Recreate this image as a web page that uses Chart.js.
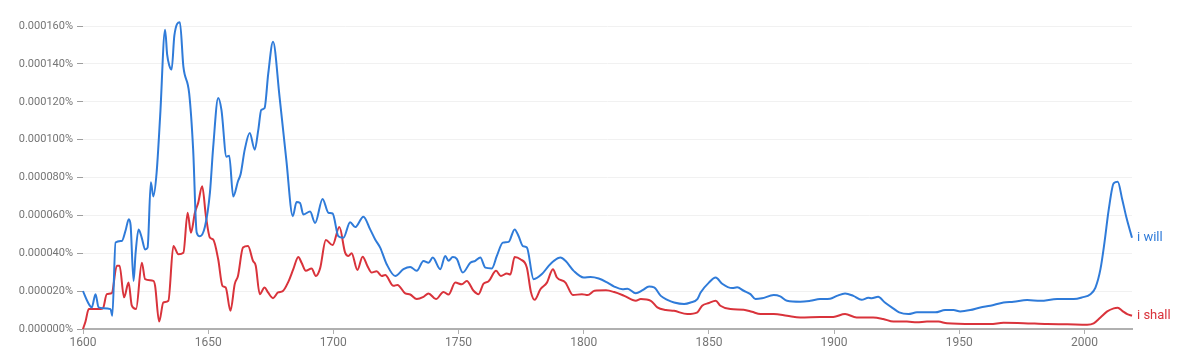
<!DOCTYPE html>
<html>
<head>
<meta charset="utf-8">
<script src="https://cdn.jsdelivr.net/npm/chart.js@4.4.0/dist/chart.umd.min.js"></script>
<style>
  html, body { margin: 0; padding: 0; background: #fff; }
  #wrap { width: 1200px; height: 355px; position: relative; }
</style>
</head>
<body>
<div id="wrap"><canvas id="myChart" width="1200" height="355"></canvas></div>
<script>
// data (values in units of 0.000001%)
const seriesNames = ['i will', 'i shall'];

const willYears = [1600, 1602, 1603.5, 1605, 1606.2, 1608, 1611, 1611.7, 1613, 1615.5, 1617, 1618.3, 1619, 1620.2, 1621, 1622.2, 1623.5, 1624.8, 1625.8, 1627.1, 1628.1, 1629.4, 1630.8, 1632.8, 1633.6, 1634.5, 1635.4, 1636.5, 1638.7, 1640.1, 1642.4, 1644, 1645.4, 1646.7, 1648.7, 1650.7, 1652, 1654, 1655.3, 1657.3, 1658.4, 1660, 1661.9, 1663, 1664.6, 1666.6, 1668.6, 1670, 1671.2, 1672.5, 1674, 1675.9, 1678.5, 1681.2, 1683.8, 1685.3, 1686.7, 1688, 1690.7, 1692.7, 1695.7, 1698, 1699.7, 1702, 1704, 1706.7, 1708.7, 1712, 1714.7, 1716.7, 1718.7, 1721.3, 1724.7, 1728, 1730.7, 1733.3, 1736, 1738, 1739.7, 1742.7, 1744.7, 1746, 1747.7, 1749.3, 1751.7, 1754.7, 1756.7, 1758.7, 1760.7, 1763.3, 1765.3, 1767.7, 1770, 1772.4, 1774, 1775.7, 1777.3, 1780, 1783.3, 1786, 1788, 1790.7, 1792.7, 1796, 1800, 1802.7, 1806, 1809.5, 1812.2, 1815.5, 1817.5, 1820.8, 1823.5, 1826.1, 1828.1, 1830.8, 1833.4, 1836.1, 1840.1, 1842.7, 1845.4, 1846.7, 1850, 1852.7, 1855.3, 1859.3, 1861.3, 1863.9, 1866.6, 1868.6, 1871.2, 1875.9, 1878.5, 1881.2, 1886.5, 1890.5, 1894.4, 1898.4, 1901.1, 1904.4, 1907.7, 1911, 1913.7, 1915, 1917.6, 1920.3, 1923.6, 1926, 1929.7, 1933.1, 1940.4, 1944.4, 1947.7, 1950.4, 1954.4, 1958.4, 1962.4, 1967.7, 1971.7, 1977.1, 1982.4, 1989.1, 1995.7, 1999.1, 2002.4, 2004.4, 2006.4, 2008, 2009.7, 2011.7, 2013.3, 2015.1, 2016.8, 2019];
const willValues = [20, 14, 11.4, 18.4, 11.5, 11, 10.5, 7, 45.7, 46.5, 52, 58, 55, 25.4, 40, 52.6, 48, 42, 43, 77.5, 70, 82.5, 112, 158, 145, 139, 137, 155, 162, 138.5, 124.5, 94.7, 51, 49, 54, 72, 96, 122, 115.7, 91, 91.5, 70, 78, 82, 94.7, 103.5, 94.7, 105, 115.7, 116.6, 135, 151.7, 122.7, 89.4, 59.6, 67, 66.5, 60.5, 62, 56, 68.7, 61.4, 61, 49, 48.2, 56.4, 53.8, 59.3, 52.6, 47.3, 43, 34.2, 28, 31.6, 32.8, 30.7, 35.9, 35, 37.7, 31.6, 38.6, 36, 38, 37, 29.8, 35, 36, 37.7, 32.4, 32, 38.6, 45.6, 46, 52.6, 49, 43.8, 43, 26.3, 29, 33.3, 35.9, 37.7, 36, 30.7, 27.2, 27.5, 26.7, 24.5, 22.4, 21, 21.3, 18.9, 20.5, 22.4, 22, 17.5, 15.4, 14, 13.2, 14, 15.8, 19.3, 24.5, 27.2, 23.9, 21.6, 22, 20.2, 18.4, 15.8, 16.2, 17.9, 17.2, 14.9, 14.4, 14.9, 15.8, 16, 17.5, 18.8, 17.5, 15.4, 16.5, 16.2, 17, 14, 10.9, 8.8, 7.9, 8.8, 8.8, 10, 10, 9.3, 10, 11.4, 12.3, 14, 14.4, 15.3, 14.9, 15.8, 15.8, 16.7, 18.4, 21.9, 31.6, 45.6, 63, 77, 77.7, 68.4, 58.7, 48.2];

const shallYears = [1600, 1601, 1602.3, 1606.9, 1608, 1609.5, 1611.5, 1613.5, 1614.6, 1616.4, 1618.2, 1619.5, 1621.2, 1623.5, 1624.8, 1628.1, 1628.8, 1630.4, 1632.1, 1634.1, 1636.1, 1638.1, 1640.1, 1641.8, 1643.1, 1644.7, 1646, 1647.6, 1649.1, 1650.7, 1652, 1654, 1655.7, 1657, 1658.9, 1660.6, 1661.9, 1663.9, 1665.9, 1667.9, 1669, 1670.6, 1672.5, 1673.9, 1675.9, 1677.9, 1679.8, 1682, 1684, 1686, 1687.3, 1689, 1691.3, 1693, 1694.7, 1697, 1699.7, 1702.4, 1704.7, 1706, 1707.3, 1709.6, 1711.7, 1713.6, 1715.3, 1717.3, 1719.3, 1720.7, 1724, 1725.6, 1728.7, 1730.7, 1733.3, 1736, 1738, 1741, 1744, 1746, 1748.7, 1751.3, 1753.3, 1756, 1758, 1760, 1762, 1765, 1766.9, 1769.3, 1770.7, 1772.4, 1774.7, 1777.3, 1778.9, 1780.4, 1782.7, 1785.3, 1787.7, 1789.3, 1792.7, 1795.7, 1799.3, 1801.6, 1804.3, 1808.9, 1812.2, 1816.2, 1820.8, 1822.8, 1826.8, 1829.4, 1832.8, 1836.1, 1841.4, 1845.4, 1847.3, 1850, 1852.7, 1854.6, 1858.6, 1863.9, 1867.2, 1870.6, 1875.9, 1881.2, 1886.5, 1894.4, 1899.7, 1904.4, 1909, 1915.6, 1919.6, 1923.7, 1929.1, 1933.1, 1937.1, 1941.7, 1945.1, 1955.7, 1962.4, 1967.7, 1975.7, 1985.1, 1993.1, 2001.1, 2003.7, 2006.4, 2009.1, 2011.7, 2013.3, 2015.1, 2017.1, 2019];
const shallValues = [0, 4, 10.5, 10.5, 11, 18.4, 19, 33.4, 33.4, 16.7, 24.5, 12.3, 10.5, 35, 26.3, 25.4, 22.8, 3.9, 14, 14.9, 43.8, 39.5, 40.3, 61.4, 50.8, 61.4, 66.6, 75.4, 59.6, 48.2, 47.3, 36.8, 22.8, 21.9, 9.6, 23.7, 28, 43, 43.8, 36, 33.4, 18.4, 21.9, 19.3, 16.3, 19.3, 20, 24.9, 31.6, 38, 35, 30.7, 32, 28, 32, 47, 44.3, 53.8, 40.3, 38.6, 40, 31.2, 38.2, 33.3, 29.8, 30.5, 28, 28.5, 22.8, 23.3, 18.8, 18.2, 15.8, 17, 18.8, 15.8, 19.6, 18.2, 24.5, 23.6, 25.4, 20.2, 18.4, 24, 25.2, 30.7, 28, 29.3, 28.8, 38, 36.8, 32.4, 19.6, 15.4, 21, 24.5, 31.6, 27.2, 24.5, 17.9, 18.4, 17.9, 20.2, 20.4, 19.5, 17.5, 14.9, 15.8, 14.9, 11.4, 10, 9.6, 7.9, 8.8, 12.3, 13.7, 14.9, 12.3, 10.5, 10.2, 9.1, 7.9, 7.9, 7, 6.1, 6.3, 6.4, 7.9, 6.1, 6.1, 5.3, 3.9, 3.9, 3.5, 4, 3.9, 3, 2.6, 2.6, 3.3, 3.1, 2.6, 2.5, 2.3, 3, 6.1, 9.3, 10.9, 11.2, 9.6, 7.9, 7];

const xTicks = [1600, 1650, 1700, 1750, 1800, 1850, 1900, 1950, 2000];
const yTicks = [0, 20, 40, 60, 80, 100, 120, 140, 160];

const willColor = '#2f7bd9';
const shallColor = '#d9333b';

function toPoints(xs, ys) {
    return xs.map((x, i) => ({ x: x, y: ys[i] }));
}

// labels at the right end of each line
const endLabels = {
    id: 'endLabels',
    afterDatasetsDraw(chart) {
        const ctx = chart.ctx;
        ctx.save();
        ctx.font = '13px Roboto';
        ctx.textBaseline = 'middle';
        chart.data.datasets.forEach((ds, i) => {
            const pts = chart.getDatasetMeta(i).data;
            const last = pts[pts.length - 1];
            ctx.fillStyle = ds.borderColor;
            ctx.fillText(ds.label, last.x + 5, last.y);
        });
        ctx.restore();
    }
};

const ctx = document.getElementById('myChart');
new Chart(ctx, {
    type: 'line',
    data: {
        datasets: [
            {
                label: seriesNames[0],
                data: toPoints(willYears, willValues),
                borderColor: willColor,
                borderWidth: 2,
                pointRadius: 0,
                cubicInterpolationMode: 'monotone',
                clip: false
            },
            {
                label: seriesNames[1],
                data: toPoints(shallYears, shallValues),
                borderColor: shallColor,
                borderWidth: 2,
                pointRadius: 0,
                cubicInterpolationMode: 'monotone',
                clip: false
            }
        ]
    },
    options: {
        responsive: false,
        animation: false,
        layout: { padding: { top: 26, right: 68, left: 0, bottom: 0 } },
        plugins: { legend: { display: false }, tooltip: { enabled: false } },
        scales: {
            x: {
                type: 'linear',
                min: 1600,
                max: 2019,
                afterBuildTicks: (scale) => { scale.ticks = xTicks.map(v => ({ value: v })); },
                afterFit: (scale) => { scale.height = 26; },
                grid: { drawOnChartArea: false, drawTicks: true, tickLength: 5, tickColor: '#b0b0b0' },
                border: { color: '#b0b0b0', width: 2 },
                ticks: {
                    color: '#757575',
                    font: { family: 'Roboto', size: 12 },
                    padding: 2,
                    maxRotation: 0,
                    callback: (v) => String(v)
                }
            },
            y: {
                min: 0,
                max: 160,
                afterBuildTicks: (scale) => { scale.ticks = yTicks.map(v => ({ value: v })); },
                afterFit: (scale) => { scale.width = 83; },
                grid: { color: '#f1f1f1', tickColor: '#9e9e9e', tickLength: 6, lineWidth: 1 },
                border: { display: false },
                ticks: {
                    color: '#757575',
                    font: { family: 'Roboto', size: 11 },
                    padding: 4,
                    callback: (v) => (v * 1e-6).toFixed(6) + '%'
                }
            }
        }
    },
    plugins: [endLabels]
});
</script>
</body>
</html>
